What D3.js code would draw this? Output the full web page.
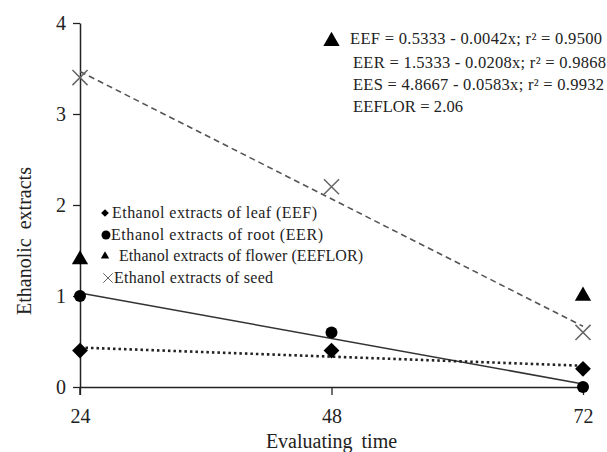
<!DOCTYPE html>
<html>
<head>
<meta charset="utf-8">
<script src="https://cdn.jsdelivr.net/npm/d3@7"></script>
<style>
  body { margin: 0; background: #fff; }
  svg, svg text { font-family: "Liberation Serif", "Tinos", "Times New Roman", Times, "DejaVu Serif", serif !important; }
</style>
</head>
<body>
<div class="chart"></div>
<script>
// data
const times = [24, 48, 72];
const leaf = [0.4, 0.4, 0.2];     // EEF
const root = [1.0, 0.6, 0.0];     // EER
const flower = [1.4, 3.8, 1.0];   // EEFLOR
const seed = [3.4, 2.2, 0.6];     // EES
const yTicks = [0, 1, 2, 3, 4];
const xTicks = [24, 48, 72];
const legendLabels = [
  'Ethanol extracts of leaf (EEF)',
  'Ethanol extracts of root (EER)',
  'Ethanol extracts of flower (EEFLOR)',
  'Ethanol extracts of seed'
];
const equations = [
  'EEF = 0.5333 - 0.0042x; r\u00b2 = 0.9500',
  'EER = 1.5333 - 0.0208x; r\u00b2 = 0.9868',
  'EES = 4.8667 - 0.0583x; r\u00b2 = 0.9932',
  'EEFLOR = 2.06'
];

const W = 607, H = 452;
const x = d3.scaleLinear().domain([24, 72]).range([80, 583]);
const y = d3.scaleLinear().domain([0, 4]).range([387, 23]);

const svg = d3.select('.chart').append('svg').attr('width', W).attr('height', H);

// least squares fit for trend lines
function fit(xs, ys) {
  const mx = d3.mean(xs), my = d3.mean(ys);
  const b = d3.sum(xs, (v, i) => (v - mx) * (ys[i] - my)) / d3.sum(xs, v => (v - mx) ** 2);
  return [my - b * mx, b];
}
function trend(ys) {
  const [a, b] = fit(times, ys);
  const x0 = times[0], x1 = times[times.length - 1];
  return [[x0, a + b * x0], [x1, a + b * x1]];
}
const line = d3.line().x(d => x(d[0])).y(d => y(d[1]));

// axes
const xAxis = d3.axisBottom(x).tickValues(xTicks).tickSize(8).tickSizeOuter(0).tickFormat(d3.format('d'));
const xg = svg.append('g').attr('transform', `translate(0,${y(0)})`).call(xAxis);
const yAxis = d3.axisLeft(y).tickValues(yTicks).tickSize(7).tickSizeOuter(0).tickFormat(d3.format('d'));
const yg = svg.append('g').attr('transform', `translate(${x(24)},0)`).call(yAxis);
[xg, yg].forEach(g => {
  g.attr('font-family', null);
  g.select('.domain').attr('stroke', '#222').attr('stroke-width', 1.5);
  g.selectAll('.tick line').attr('stroke', '#222').attr('stroke-width', 1.3);
  g.selectAll('text').attr('fill', '#222').style('font-size', '20px');
});
xg.selectAll('text').attr('dy', '0.95em').attr('y', 17);
yg.selectAll('text').attr('x', -14);
// y axis continues a little below the x axis
yg.append('line').attr('x1', 0).attr('x2', 0).attr('y1', y(0)).attr('y2', y(0) + 8)
  .attr('stroke', '#222').attr('stroke-width', 1.5);

svg.append('text').attr('x', x(48)).attr('y', 448).attr('text-anchor', 'middle')
  .attr('fill', '#222').style('font-size', '20px').style('word-spacing', '4px').text('Evaluating time');
svg.append('text').attr('transform', `translate(31,${(y(0) + y(4)) / 2 + 36}) rotate(-90)`)
  .attr('text-anchor', 'middle').attr('fill', '#222').style('font-size', '20px')
  .style('word-spacing', '4px').text('Ethanolic extracts');

// trend lines
svg.append('path').datum(trend(seed)).attr('d', line).attr('fill', 'none')
  .attr('stroke', '#555').attr('stroke-width', 1.6).attr('stroke-dasharray', '6,4');
svg.append('path').datum(trend(root)).attr('d', line).attr('fill', 'none')
  .attr('stroke', '#333').attr('stroke-width', 1.6);
svg.append('path').datum(trend(leaf)).attr('d', line).attr('fill', 'none')
  .attr('stroke', '#222').attr('stroke-width', 2.6).attr('stroke-dasharray', '2.5,3');

// markers
const pts = (ys) => times.map((t, i) => [t, ys[i]]);
const square = d3.symbol().type(d3.symbolSquare).size(125);
const tri = d3.symbol().type(d3.symbolTriangle).size(115);

svg.selectAll('.leaf').data(pts(leaf)).enter().append('path').attr('class', 'leaf')
  .attr('d', square).attr('transform', d => `translate(${x(d[0])},${y(d[1])}) rotate(45)`).attr('fill', '#000');
svg.selectAll('.root').data(pts(root)).enter().append('circle').attr('class', 'root')
  .attr('cx', d => x(d[0])).attr('cy', d => y(d[1])).attr('r', 6).attr('fill', '#000');
svg.selectAll('.flower').data(pts(flower)).enter().append('path').attr('class', 'flower')
  .attr('d', tri).attr('transform', d => `translate(${x(d[0])},${y(d[1])})`).attr('fill', '#000');
svg.selectAll('.seed').data(pts(seed)).enter().append('path').attr('class', 'seed')
  .attr('d', d3.symbol().type(d3.symbolX).size(150)).attr('transform', d => `translate(${x(d[0])},${y(d[1])})`)
  .attr('fill', 'none').attr('stroke', '#666').attr('stroke-width', 1.5);

// legend
const legend = svg.append('g').attr('transform', 'translate(105,0)');
const legY = [213, 235, 256, 278];
const legTextX = [7, 6, 14, 9];
const legTextLen = [205, 212, 244, 159];
legendLabels.forEach((lab, i) => {
  const g = legend.append('g').attr('transform', `translate(0,${legY[i]})`);
  if (i === 0) g.append('path').attr('d', d3.symbol().type(d3.symbolSquare).size(30))
    .attr('transform', 'rotate(45)').attr('fill', '#000');
  if (i === 1) g.append('circle').attr('cx', 1).attr('r', 4.5).attr('fill', '#000');
  if (i === 2) g.append('path').attr('d', d3.symbol().type(d3.symbolTriangle).size(30)).attr('fill', '#000');
  if (i === 3) g.append('path').attr('d', d3.symbol().type(d3.symbolX).size(60))
    .attr('transform', 'translate(3,0)').attr('fill', 'none').attr('stroke', '#666').attr('stroke-width', 1);
  g.append('text').attr('x', legTextX[i]).attr('y', 5).attr('fill', '#222').style('font-size', '16px')
    .attr('textLength', legTextLen[i]).attr('lengthAdjust', 'spacing').text(lab);
});

// equations
const eqX = [350, 353, 353, 353];
const eqY = [44, 68, 90, 112];
const eqLen = [252, 253, 251, 110];
equations.forEach((t, i) => {
  svg.append('text').attr('x', eqX[i]).attr('y', eqY[i]).attr('fill', '#222')
    .style('font-size', '16.5px').attr('textLength', eqLen[i]).attr('lengthAdjust', 'spacing').text(t);
});
</script>
</body>
</html>
